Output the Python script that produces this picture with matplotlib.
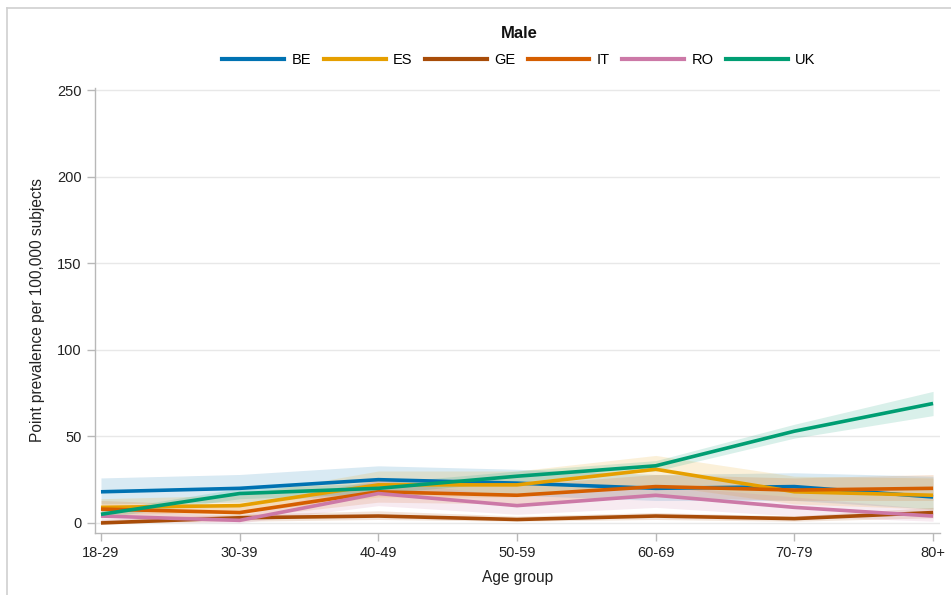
import matplotlib
matplotlib.use("Agg")
import matplotlib.pyplot as plt
from matplotlib.lines import Line2D
import numpy as np

plt.rcParams['font.family'] = ['Liberation Sans', 'DejaVu Sans']

age_groups = ["18-29", "30-39", "40-49", "50-59", "60-69", "70-79", "80+"]
countries = ["BE", "ES", "GE", "IT", "RO", "UK"]

be_mean = [18, 20, 25, 23, 20, 21, 15]
be_low = [11, 12, 17, 16, 13, 13, 8]
be_high = [26, 28, 33, 31, 28, 29, 27]

es_mean = [9, 10, 22, 22, 31, 18, 16]
es_low = [5, 6, 15, 15, 22, 11, 8]
es_high = [14, 16, 30, 30, 39, 27, 26]

ge_mean = [0, 3, 4, 2, 4, 2.5, 6]
ge_low = [0, 1, 2, 1, 2, 1, 3]
ge_high = [2, 5, 7, 4, 6, 4, 9]

it_mean = [8, 6, 18, 16, 21, 19, 20]
it_low = [4, 3, 12, 11, 15, 13, 13]
it_high = [13, 10, 25, 22, 28, 26, 28]

ro_mean = [4, 1.5, 17, 10, 16, 9, 4]
ro_low = [1, 0, 10, 5, 9, 4, 1]
ro_high = [8, 4, 25, 15, 22, 15, 8]

uk_mean = [5, 17, 20, 27, 33, 53, 69]
uk_low = [3, 14, 17, 24, 30, 49, 62]
uk_high = [7, 20, 23, 30, 36, 57, 76]

colors = {"BE": "#0072B2", "ES": "#E69F00", "GE": "#A84C08",
          "IT": "#D55E00", "RO": "#CC79A7", "UK": "#009E73"}

series = {
    "BE": (be_mean, be_low, be_high),
    "ES": (es_mean, es_low, es_high),
    "GE": (ge_mean, ge_low, ge_high),
    "IT": (it_mean, it_low, it_high),
    "RO": (ro_mean, ro_low, ro_high),
    "UK": (uk_mean, uk_low, uk_high),
}

fig = plt.figure(figsize=(9.51, 5.95), dpi=100)
W, H = 951, 595
ax = fig.add_axes([95 / W, 1 - 533 / H, (940 - 95) / W, (533 - 88) / H])

x = np.arange(len(age_groups))
for c in countries:
    m, lo, hi = series[c]
    ax.fill_between(x, lo, hi, color=colors[c], alpha=0.15, linewidth=0)
for c in countries:
    m, lo, hi = series[c]
    ax.plot(x, m, color=colors[c], linewidth=2.6, solid_capstyle='butt')

ax.set_xlim(-0.043, 6.05)
ax.set_ylim(-5.8, 251.2)
ax.set_xticks(x)
ax.set_xticklabels(age_groups)
ax.set_yticks([0, 50, 100, 150, 200, 250])
ax.grid(axis='y', color='#e8e8e8', linewidth=1)
ax.set_axisbelow(True)

for side in ['top', 'right']:
    ax.spines[side].set_visible(False)
for side in ['left', 'bottom']:
    ax.spines[side].set_color('#b8b8b8')
    ax.spines[side].set_linewidth(1)
ax.tick_params(axis='both', colors='#b8b8b8', labelcolor='#222222',
               length=6, width=1, labelsize=10.5)

ax.set_xlabel("Age group", fontsize=11.2, color='#222222', labelpad=7)
ax.set_ylabel("Point prevalence per 100,000 subjects", fontsize=11.2,
              color='#222222', labelpad=9)

cx = 519 / W
fig.text(cx, 1 - 33 / H, "Male", ha='center', va='center',
         fontsize=12, fontweight='bold', color='#111111')

handles = [Line2D([0], [0], color=colors[c], linewidth=3) for c in countries]
fig.legend(handles, countries, loc='center', ncol=6,
           bbox_to_anchor=(cx, 1 - 60 / H),
           frameon=False, fontsize=10.5, handlelength=4.25,
           handletextpad=0.5, columnspacing=0.85)

# figure frame on top and left
fig.add_artist(Line2D([7 / W, 7 / W], [0, 1 - 8 / H], color='#d0d0d0',
                      linewidth=1.2, transform=fig.transFigure))
fig.add_artist(Line2D([7 / W, 1], [1 - 8 / H, 1 - 8 / H], color='#d0d0d0',
                      linewidth=1.2, transform=fig.transFigure))

fig.savefig("out.png", dpi=100)
